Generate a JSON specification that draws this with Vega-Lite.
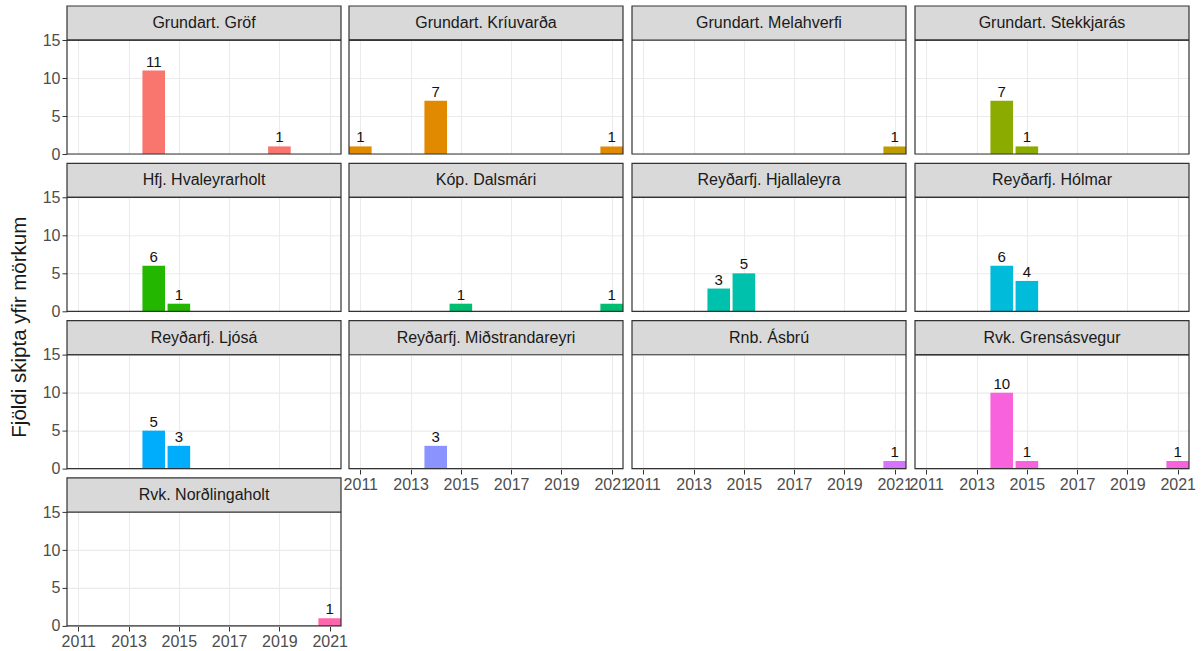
{
  "$schema": "https://vega.github.io/schema/vega-lite/v6.json",
  "background": "white",
  "padding": {"left": 9, "top": 5, "right": 5, "bottom": 5},
  "title": {"text": "Fjöldi skipta yfir mörkum", "orient": "left", "anchor": "middle", "fontSize": 20.5, "fontWeight": "normal", "font": "Liberation Sans", "color": "#1A1A1A", "offset": 12},
  "data": {"values": [
    {"site": "Grundart. Gröf", "year": 2014, "n": 11},
    {"site": "Grundart. Gröf", "year": 2019, "n": 1},
    {"site": "Grundart. Kríuvarða", "year": 2011, "n": 1},
    {"site": "Grundart. Kríuvarða", "year": 2014, "n": 7},
    {"site": "Grundart. Kríuvarða", "year": 2021, "n": 1},
    {"site": "Grundart. Melahverfi", "year": 2021, "n": 1},
    {"site": "Grundart. Stekkjarás", "year": 2014, "n": 7},
    {"site": "Grundart. Stekkjarás", "year": 2015, "n": 1},
    {"site": "Hfj. Hvaleyrarholt", "year": 2014, "n": 6},
    {"site": "Hfj. Hvaleyrarholt", "year": 2015, "n": 1},
    {"site": "Kóp. Dalsmári", "year": 2015, "n": 1},
    {"site": "Kóp. Dalsmári", "year": 2021, "n": 1},
    {"site": "Reyðarfj. Hjallaleyra", "year": 2014, "n": 3},
    {"site": "Reyðarfj. Hjallaleyra", "year": 2015, "n": 5},
    {"site": "Reyðarfj. Hólmar", "year": 2014, "n": 6},
    {"site": "Reyðarfj. Hólmar", "year": 2015, "n": 4},
    {"site": "Reyðarfj. Ljósá", "year": 2014, "n": 5},
    {"site": "Reyðarfj. Ljósá", "year": 2015, "n": 3},
    {"site": "Reyðarfj. Miðstrandareyri", "year": 2014, "n": 3},
    {"site": "Rnb. Ásbrú", "year": 2021, "n": 1},
    {"site": "Rvk. Grensásvegur", "year": 2014, "n": 10},
    {"site": "Rvk. Grensásvegur", "year": 2015, "n": 1},
    {"site": "Rvk. Grensásvegur", "year": 2021, "n": 1},
    {"site": "Rvk. Norðlingaholt", "year": 2021, "n": 1}
  ]},
  "spacing": -5,
  "hconcat": [
    {
      "transform": [{"filter": {"field": "site", "oneOf": ["Grundart. Gröf", "Hfj. Hvaleyrarholt", "Reyðarfj. Ljósá", "Rvk. Norðlingaholt"]}}],
      "columns": 1,
      "bounds": "flush",
      "spacing": {"row": 9.3, "column": 9},
      "facet": {"field": "site", "type": "nominal", "title": null, "header": {"title": null, "labels": false, "labelFontSize": 0, "labelPadding": 0, "labelExpr": "''"},
        "sort": ["Grundart. Gröf", "Hfj. Hvaleyrarholt", "Reyðarfj. Ljósá", "Rvk. Norðlingaholt"]},
      "spec": {
        "width": 274,
        "height": 148,
        "layer": [
          {"mark": {"type": "bar", "width": 22.6},
           "encoding": {
            "x": {"field": "year", "type": "quantitative", "title": null,
              "scale": {"domain": [2010.55, 2021.45], "nice": false, "zero": false, "padding": 0},
              "axis": {"values": [2011, 2012, 2013, 2014, 2015, 2016, 2017, 2018, 2019, 2020, 2021],
                "format": "d",
                "labelExpr": "datum.value % 2 == 1 ? datum.label : ''",
                "tickOpacity": {"condition": {"test": "datum.value % 2 == 0", "value": 0}, "value": 1},
                "gridWidth": {"condition": {"test": "datum.value % 2 == 0", "value": 0.6}, "value": 1.1},
                "labelFlush": false, "labelOverlap": false}},
            "y": {"field": "n", "type": "quantitative", "title": null,
              "scale": {"domain": [0, 19.5], "nice": false, "padding": 0},
              "axis": {"values": [0, 2.5, 5, 7.5, 10, 12.5, 15],
                "labelExpr": "datum.value % 5 == 0 ? datum.label : ''",
                "tickOpacity": {"condition": {"test": "datum.value % 5 != 0", "value": 0}, "value": 1},
                "gridWidth": {"condition": {"test": "datum.value % 5 != 0", "value": 0.6}, "value": 1.1},
                "labelOverlap": false}},
            "color": {"field": "site", "type": "nominal", "legend": null,
             "scale": {"domain": ["Grundart. Gröf", "Grundart. Kríuvarða", "Grundart. Melahverfi", "Grundart. Stekkjarás", "Hfj. Hvaleyrarholt", "Kóp. Dalsmári", "Reyðarfj. Hjallaleyra", "Reyðarfj. Hólmar", "Reyðarfj. Ljósá", "Reyðarfj. Miðstrandareyri", "Rnb. Ásbrú", "Rvk. Grensásvegur", "Rvk. Norðlingaholt"],
               "range": ["#F8766D", "#E18A00", "#BE9C00", "#8CAB00", "#24B700", "#00BE70", "#00C1AB", "#00BBDA", "#00ACFC", "#8B93FF", "#D575FE", "#F962DD", "#FF65AC"]}}}},
          {"mark": {"type": "text", "baseline": "bottom", "dy": -1, "font": "Liberation Sans", "fontSize": 15, "color": "#111111"},
           "encoding": {"x": {"field": "year", "type": "quantitative"}, "y": {"field": "n", "type": "quantitative"}, "text": {"field": "n", "type": "quantitative"}}},
          {"mark": {"type": "rect", "fill": "#D9D9D9"},
           "encoding": {"x": {"datum": 2010.55}, "x2": {"datum": 2021.45}, "y": {"datum": 15}, "y2": {"datum": 19.5}}},
          {"mark": {"type": "rule", "color": "#333333", "strokeWidth": 1.2},
           "encoding": {"y": {"datum": 15}}},
          {"transform": [{"aggregate": [{"op": "count", "as": "k"}], "groupby": ["site"]}],
           "mark": {"type": "text", "baseline": "middle", "align": "center", "font": "Liberation Sans", "fontSize": 16, "color": "#1A1A1A"},
           "encoding": {"x": {"datum": 2016}, "y": {"datum": 17.25}, "text": {"field": "site", "type": "nominal"}}},
          {"transform": [{"aggregate": [{"op": "count", "as": "k"}], "groupby": ["site"]}],
           "mark": {"type": "rect", "fill": null, "stroke": "#333333", "strokeWidth": 1.2},
           "encoding": {"x": {"datum": 2010.55}, "x2": {"datum": 2021.45}, "y": {"datum": 0}, "y2": {"datum": 19.5}}}
        ]
      }
    },
    {
      "transform": [{"filter": {"field": "site", "oneOf": ["Grundart. Kríuvarða", "Grundart. Melahverfi", "Grundart. Stekkjarás", "Kóp. Dalsmári", "Reyðarfj. Hjallaleyra", "Reyðarfj. Hólmar", "Reyðarfj. Miðstrandareyri", "Rnb. Ásbrú", "Rvk. Grensásvegur"]}}],
      "columns": 3,
      "bounds": "flush",
      "spacing": {"row": 9.3, "column": 9},
      "facet": {"field": "site", "type": "nominal", "title": null, "header": {"title": null, "labels": false, "labelFontSize": 0, "labelPadding": 0, "labelExpr": "''"},
        "sort": ["Grundart. Kríuvarða", "Grundart. Melahverfi", "Grundart. Stekkjarás", "Kóp. Dalsmári", "Reyðarfj. Hjallaleyra", "Reyðarfj. Hólmar", "Reyðarfj. Miðstrandareyri", "Rnb. Ásbrú", "Rvk. Grensásvegur"]},
      "spec": {
        "width": 274,
        "height": 148,
        "layer": [
          {"mark": {"type": "bar", "width": 22.6},
           "encoding": {
            "x": {"field": "year", "type": "quantitative", "title": null,
              "scale": {"domain": [2010.55, 2021.45], "nice": false, "zero": false, "padding": 0},
              "axis": {"values": [2011, 2012, 2013, 2014, 2015, 2016, 2017, 2018, 2019, 2020, 2021],
                "format": "d",
                "labelExpr": "datum.value % 2 == 1 ? datum.label : ''",
                "tickOpacity": {"condition": {"test": "datum.value % 2 == 0", "value": 0}, "value": 1},
                "gridWidth": {"condition": {"test": "datum.value % 2 == 0", "value": 0.6}, "value": 1.1},
                "labelFlush": false, "labelOverlap": false}},
            "y": {"field": "n", "type": "quantitative", "title": null,
              "scale": {"domain": [0, 19.5], "nice": false, "padding": 0},
              "axis": {"values": [0, 2.5, 5, 7.5, 10, 12.5, 15], "labels": false, "ticks": false,
                "gridWidth": {"condition": {"test": "datum.value % 5 != 0", "value": 0.6}, "value": 1.1}}},
            "color": {"field": "site", "type": "nominal", "legend": null,
             "scale": {"domain": ["Grundart. Gröf", "Grundart. Kríuvarða", "Grundart. Melahverfi", "Grundart. Stekkjarás", "Hfj. Hvaleyrarholt", "Kóp. Dalsmári", "Reyðarfj. Hjallaleyra", "Reyðarfj. Hólmar", "Reyðarfj. Ljósá", "Reyðarfj. Miðstrandareyri", "Rnb. Ásbrú", "Rvk. Grensásvegur", "Rvk. Norðlingaholt"],
               "range": ["#F8766D", "#E18A00", "#BE9C00", "#8CAB00", "#24B700", "#00BE70", "#00C1AB", "#00BBDA", "#00ACFC", "#8B93FF", "#D575FE", "#F962DD", "#FF65AC"]}}}},
          {"mark": {"type": "text", "baseline": "bottom", "dy": -1, "font": "Liberation Sans", "fontSize": 15, "color": "#111111"},
           "encoding": {"x": {"field": "year", "type": "quantitative"}, "y": {"field": "n", "type": "quantitative"}, "text": {"field": "n", "type": "quantitative"}}},
          {"mark": {"type": "rect", "fill": "#D9D9D9"},
           "encoding": {"x": {"datum": 2010.55}, "x2": {"datum": 2021.45}, "y": {"datum": 15}, "y2": {"datum": 19.5}}},
          {"mark": {"type": "rule", "color": "#333333", "strokeWidth": 1.2},
           "encoding": {"y": {"datum": 15}}},
          {"transform": [{"aggregate": [{"op": "count", "as": "k"}], "groupby": ["site"]}],
           "mark": {"type": "text", "baseline": "middle", "align": "center", "font": "Liberation Sans", "fontSize": 16, "color": "#1A1A1A"},
           "encoding": {"x": {"datum": 2016}, "y": {"datum": 17.25}, "text": {"field": "site", "type": "nominal"}}},
          {"transform": [{"aggregate": [{"op": "count", "as": "k"}], "groupby": ["site"]}],
           "mark": {"type": "rect", "fill": null, "stroke": "#333333", "strokeWidth": 1.2},
           "encoding": {"x": {"datum": 2010.55}, "x2": {"datum": 2021.45}, "y": {"datum": 0}, "y2": {"datum": 19.5}}}
        ]
      }
    }
  ],
  "config": {
    "view": {"stroke": null},
    "header": {"labels": false, "title": null, "labelFontSize": 0, "labelPadding": 0, "labelExpr": "''"},
    "headerFacet": {"labels": false, "title": null, "labelFontSize": 0, "labelPadding": 0, "labelExpr": "''"},
    "axis": {"domain": false, "tickColor": "#333333", "tickSize": 5, "labelColor": "#4D4D4D", "labelFont": "Liberation Sans", "labelFontSize": 16, "gridColor": "#EBEBEB", "labelPadding": 2}
  }
}
